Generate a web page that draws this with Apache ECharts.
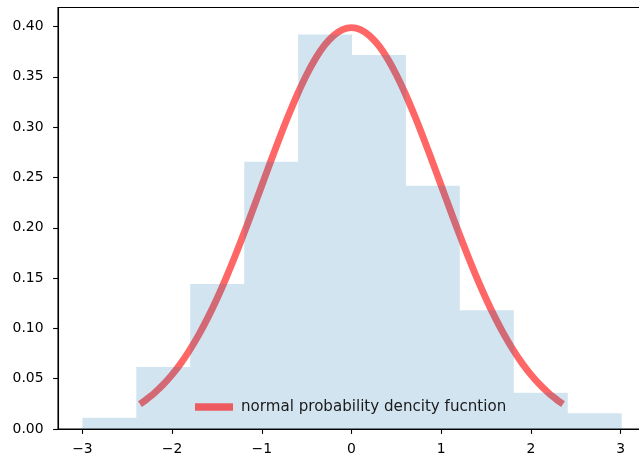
<!DOCTYPE html>
<html>
<head>
<meta charset="utf-8">
<script src="https://cdn.jsdelivr.net/npm/echarts@6/dist/echarts.min.js"></script>
<style>html,body{margin:0;padding:0;background:#fff;}#c{width:639px;height:455px;}</style>
</head>
<body>
<div id="c"></div>
<script>
// Histogram bin edges and densities
var binEdges = [-3.0, -2.399, -1.798, -1.196, -0.595, 0.006, 0.607, 1.208, 1.810, 2.411, 3.012];
var binHeights = [0.0112, 0.0617, 0.1440, 0.2657, 0.3920, 0.3718, 0.2418, 0.1181, 0.0361, 0.0156];
// Density curve sample points
var curveX = [-2.326, -2.3, -2.2, -2.1, -2.0, -1.9, -1.8, -1.7, -1.6, -1.5, -1.4, -1.3, -1.2, -1.1, -1.0,
              -0.9, -0.8, -0.7, -0.6, -0.5, -0.4, -0.3, -0.2, -0.1, 0.0,
              0.1, 0.2, 0.3, 0.4, 0.5, 0.6, 0.7, 0.8, 0.9, 1.0,
              1.1, 1.2, 1.3, 1.4, 1.5, 1.6, 1.7, 1.8, 1.9, 2.0, 2.1, 2.2, 2.3, 2.326];
var curveY = [0.0267, 0.0283, 0.0355, 0.0440, 0.0540, 0.0656, 0.0790, 0.0940, 0.1109, 0.1295, 0.1497, 0.1714, 0.1942, 0.2179, 0.2420,
              0.2661, 0.2897, 0.3123, 0.3332, 0.3521, 0.3683, 0.3814, 0.3910, 0.3970, 0.3989,
              0.3970, 0.3910, 0.3814, 0.3683, 0.3521, 0.3332, 0.3123, 0.2897, 0.2661, 0.2420,
              0.2179, 0.1942, 0.1714, 0.1497, 0.1295, 0.1109, 0.0940, 0.0790, 0.0656, 0.0540, 0.0440, 0.0355, 0.0283, 0.0267];
var xTicks = [-3, -2, -1, 0, 1, 2, 3];
var yTicks = [0, 0.05, 0.10, 0.15, 0.20, 0.25, 0.30, 0.35, 0.40];
var legendName = 'normal probability dencity fucntion';

var histData = binEdges.map(function (e, i) {
  return [e, binHeights[Math.min(i, binHeights.length - 1)]];
});
var curveData = curveX.map(function (x, i) { return [x, curveY[i]]; });

var font = 'DejaVu Sans';
var chart = echarts.init(document.getElementById('c'), null, {renderer: 'canvas'});
chart.setOption({
  animation: false,
  backgroundColor: '#ffffff',
  grid: {
    left: 58, top: 7.5, width: 592, height: 421.5,
    show: true, borderColor: '#000', borderWidth: 1.1, backgroundColor: 'transparent',
    containLabel: false, outerBoundsMode: 'none'
  },
  legend: {
    data: [legendName],
    left: 195, top: 399.5, padding: 0,
    icon: 'rect', itemWidth: 38, itemHeight: 7.3,
    textStyle: {fontFamily: font, fontSize: 15.1, color: '#1a1a1a', padding: [0, 0, 0, 3]},
    itemStyle: {color: 'rgba(255,0,0,0.6)'}
  },
  xAxis: {
    type: 'value', min: -3.272, max: 3.328,
    axisLine: {show: true, onZero: false, lineStyle: {color: '#000', width: 1.1}},
    axisTick: {show: true, length: 4.9, lineStyle: {color: '#000', width: 1.1}, customValues: xTicks},
    axisLabel: {
      customValues: xTicks, margin: 13, color: '#000', fontFamily: font, fontSize: 13.9,
      formatter: function (v) { return (v < 0 ? '\u2212' + Math.abs(v) : String(v)); }
    },
    splitLine: {show: false}
  },
  yAxis: {
    type: 'value', min: 0, max: 0.4189,
    axisLine: {show: true, onZero: false, lineStyle: {color: '#000', width: 1.1}},
    axisTick: {show: true, length: 4.9, lineStyle: {color: '#000', width: 1.1}, customValues: yTicks},
    axisLabel: {
      customValues: yTicks, margin: 14.5, color: '#000', fontFamily: font, fontSize: 13.9,
      formatter: function (v) { return v.toFixed(2); }
    },
    splitLine: {show: false}
  },
  series: [
    {
      name: legendName, type: 'line', data: curveData, smooth: 0.3,
      showSymbol: false, symbol: 'none', z: 2,
      color: 'rgba(255,0,0,0.6)',
      lineStyle: {color: 'rgba(255,0,0,0.6)', width: 6.9, cap: 'square', join: 'round'}
    },
    {
      name: 'hist', type: 'line', data: histData, step: 'end',
      showSymbol: false, symbol: 'none', z: 3,
      lineStyle: {width: 0, opacity: 0},
      areaStyle: {color: 'rgba(31,119,180,0.2)', opacity: 1}
    }
  ]
});
</script>
</body>
</html>
